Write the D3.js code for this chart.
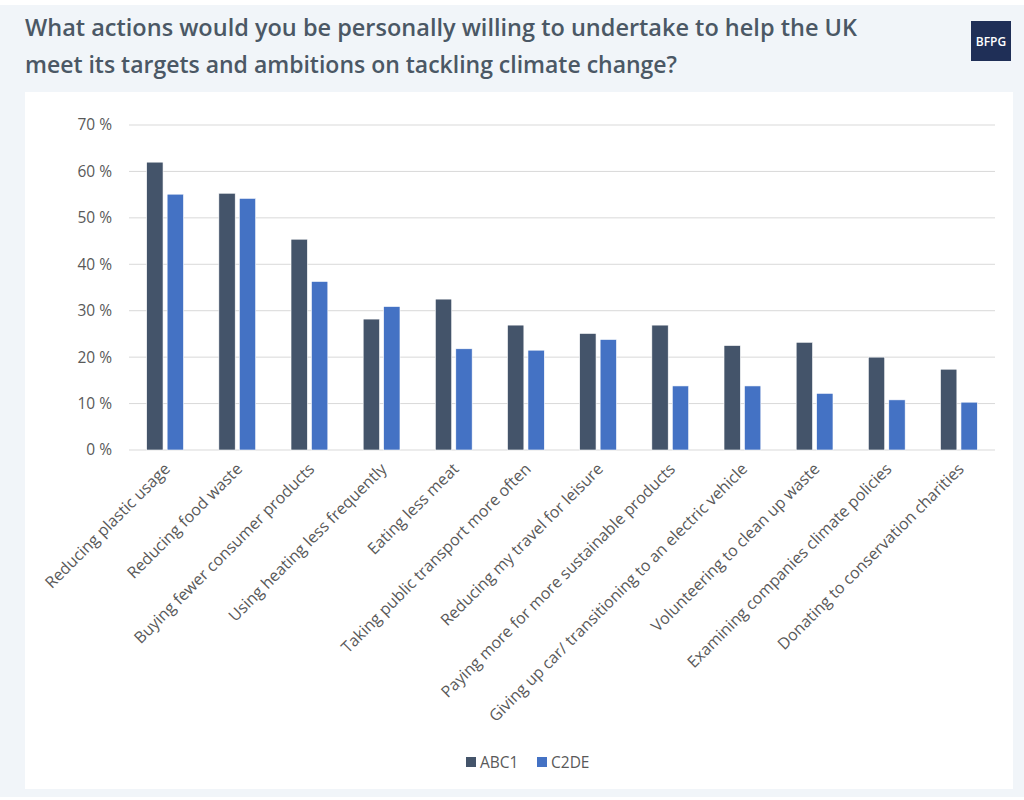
<!DOCTYPE html>
<html>
<head>
<meta charset="utf-8">
<script src="https://cdn.jsdelivr.net/npm/d3@7"></script>
<style>
  html, body { margin: 0; padding: 0; background: #ffffff; }
  svg { display: block; }
</style>
</head>
<body>
<svg id="chart" width="1024" height="800"></svg>
<script>
const categories = [
  "Reducing plastic usage",
  "Reducing food waste",
  "Buying fewer consumer products",
  "Using heating less frequently",
  "Eating less meat",
  "Taking public transport more often",
  "Reducing my travel for leisure",
  "Paying more for more sustainable products",
  "Giving up car/ transitioning to an electric vehicle",
  "Volunteering to clean up waste",
  "Examining companies climate policies",
  "Donating to conservation charities"
];
const seriesNames = ["ABC1", "C2DE"];
const abc1 = [62.0, 55.3, 45.4, 28.2, 32.5, 26.9, 25.1, 26.9, 22.5, 23.2, 20.0, 17.4];
const c2de = [55.1, 54.2, 36.3, 30.9, 21.8, 21.5, 23.8, 13.8, 13.8, 12.2, 10.8, 10.3];
const yTicks = [0, 10, 20, 30, 40, 50, 60, 70];
const titleLines = [
  "What actions would you be personally willing to undertake to help the UK",
  "meet its targets and ambitions on tackling climate change?"
];
const colors = { ABC1: "#44546a", C2DE: "#4472c4" };

const svg = d3.select("#chart");

// page background
svg.append("rect").attr("x", 0).attr("y", 5).attr("width", 1024).attr("height", 792).attr("fill", "#f1f5f9");
// white panel
svg.append("rect").attr("x", 25).attr("y", 92).attr("width", 988).attr("height", 697).attr("fill", "#ffffff");

// title
svg.append("g").selectAll("text").data(titleLines).join("text")
  .attr("x", 25).attr("y", (d, i) => 36 + i * 37)
  .attr("font-family", "'Open Sans', sans-serif")
  .attr("font-weight", 600)
  .attr("font-size", 24)
  .attr("fill", "#4b5865")
  .attr("textLength", (d, i) => i === 0 ? 832 : 652)
  .attr("lengthAdjust", "spacingAndGlyphs")
  .text(d => d);

// logo
svg.append("rect").attr("x", 971).attr("y", 21).attr("width", 40).attr("height", 40).attr("fill", "#1f2f57");
svg.append("text").attr("x", 991).attr("y", 46).attr("text-anchor", "middle")
  .attr("font-family", "'Open Sans', sans-serif").attr("font-weight", 600).attr("font-size", 12)
  .attr("fill", "#ffffff").text("BFPG");

// scales
const x0 = d3.scaleBand().domain(categories).range([129, 995]).paddingInner(0.49).paddingOuter(0.245);
const x1 = d3.scaleBand().domain(seriesNames).range([0, x0.bandwidth()]).paddingInner(0.2).paddingOuter(0);
const y = d3.scaleLinear().domain([0, 70]).range([450, 125]);

// gridlines
svg.append("g").selectAll("line").data(yTicks).join("line")
  .attr("x1", 129).attr("x2", 995)
  .attr("y1", d => y(d)).attr("y2", d => y(d))
  .attr("stroke", "#d9d9d9").attr("stroke-width", 1);

// y axis labels
const yAxis = d3.axisLeft(y).tickValues(yTicks).tickSize(0).tickPadding(0).tickFormat(d => d + " %");
const yg = svg.append("g").attr("transform", "translate(112,0)").call(yAxis);
yg.select(".domain").remove();
yg.selectAll("text").attr("font-family", "'Open Sans', sans-serif").attr("font-size", 15.5).attr("fill", "#595959");

// bars
const data = categories.map((c, i) => ({ cat: c, vals: [{ k: "ABC1", v: abc1[i] }, { k: "C2DE", v: c2de[i] }] }));
svg.append("g").selectAll("g").data(data).join("g")
  .attr("transform", d => `translate(${x0(d.cat)},0)`)
  .selectAll("rect").data(d => d.vals).join("rect")
  .attr("x", d => x1(d.k))
  .attr("width", x1.bandwidth())
  .attr("y", d => y(d.v))
  .attr("height", d => y(0) - y(d.v))
  .attr("fill", d => colors[d.k])
  .attr("stroke", "#ffffff").attr("stroke-width", 0.6);

// x axis labels
const xAxis = d3.axisBottom(x0).tickSize(0).tickPadding(0);
const xg = svg.append("g").attr("transform", "translate(0,450)").call(xAxis);
xg.select(".domain").remove();
xg.selectAll("text")
  .attr("font-family", "'Open Sans', sans-serif").attr("font-size", 16).attr("fill", "#595959")
  .attr("text-anchor", "end")
  .attr("dy", null).attr("y", 0)
  .attr("transform", "translate(6,20) rotate(-45)");

// legend
const legend = svg.append("g").selectAll("g").data(seriesNames).join("g")
  .attr("transform", (d, i) => `translate(${466 + i * 71},757)`);
legend.append("rect").attr("width", 10).attr("height", 10).attr("fill", d => colors[d]);
legend.append("text").attr("x", 14).attr("y", 10.5)
  .attr("font-family", "'Open Sans', sans-serif").attr("font-size", 15.5).attr("fill", "#595959")
  .text(d => d);
</script>
</body>
</html>
